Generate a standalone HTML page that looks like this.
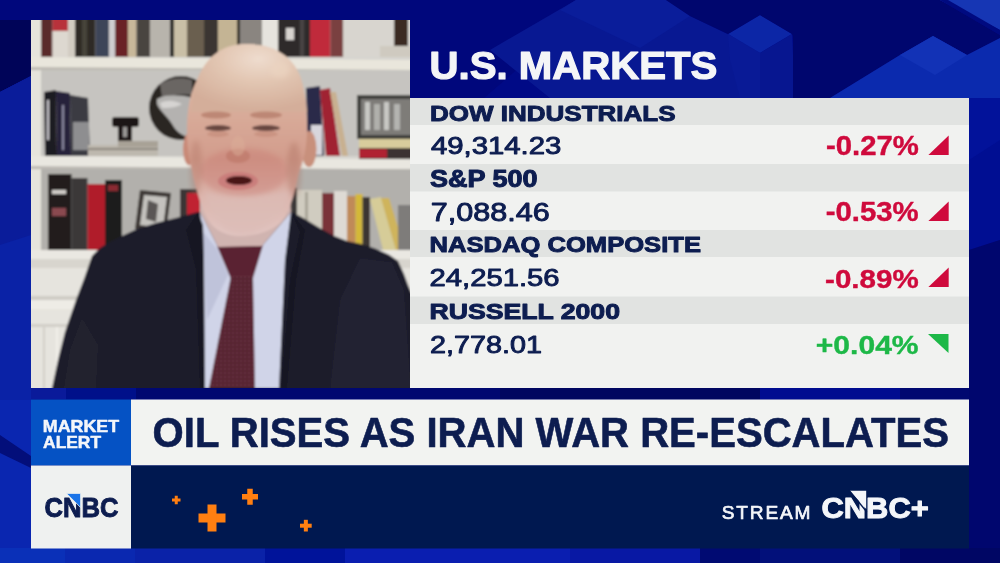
<!DOCTYPE html>
<html><head><meta charset="utf-8"><title>CNBC</title>
<style>
html,body{margin:0;padding:0;}
body{width:1000px;height:563px;overflow:hidden;position:relative;background:#000a8c;font-family:"Liberation Sans",Arial,sans-serif;}
svg{position:absolute;left:0;top:0;display:block;}
.b{font-weight:bold;}
</style></head>
<body>
<svg width="1000" height="563" viewBox="0 0 1000 563">
<defs>
  <linearGradient id="bgL" x1="0" y1="0" x2="1" y2="0">
    <stop offset="0" stop-color="#0a2aa8"/>
    <stop offset="1" stop-color="#000a8c"/>
  </linearGradient>
</defs>
<!-- background -->
<rect x="0" y="0" width="1000" height="563" fill="#000a86"/>
<g id="bgshapes">
  <!-- top-left dark -->
  <polygon points="0,0 598,0 484,98 410,98 410,20 31,20 31,76 0,92" fill="#00077c"/>
  <polygon points="0,20 31,20 31,76 0,92" fill="#000458"/>
  <!-- left strip -->
  <polygon points="0,92 31,76 31,400 0,400" fill="#0a22a6"/>
  <polygon points="0,92 31,76 31,235 0,245" fill="#0a1c9a"/>
  <polygon points="0,400 31,400 31,563 0,563" fill="#0a26b0"/>
  <polygon points="0,435 31,456 31,468 0,453" fill="#030e7a"/>
  <!-- top cubes -->
  <polygon points="490,50 576,0 666,0 690,16 740,40 760,53 760,98 550,98" fill="#081892"/>
  <polygon points="560,10 576,0 666,0 690,16 640,48" fill="#0a1d9a"/>
  <polygon points="728,34 760,15 792,34 760,53" fill="#0c26a6"/>
  <polygon points="760,53 792,34 795,98 760,98" fill="#071690"/>
  <polygon points="728,34 760,53 760,98 740,98 730,60" fill="#091a96"/>
  <polygon points="666,0 795,0 795,40 792,34 760,15 728,34 690,16" fill="#00066e"/>
  <polygon points="793,0 940,0 1000,35 1000,38 967,55 933,36 900,55 830,98 793,98" fill="#00066e"/>
  <polygon points="830,98 900,55 933,36 967,55 1000,38 1000,98" fill="#0b2aae"/>
  <polygon points="900,55 933,36 967,55 935,75" fill="#1232b6"/>
  <polygon points="940,0 1000,0 1000,30" fill="#1636b4"/>
  <polygon points="940,0 1000,35 1000,30 948,0" fill="#000a80"/>
  <!-- right strip -->
  <polygon points="969,98 1000,98 1000,240 969,250" fill="#000e92"/>
  <polygon points="969,98 1000,98 1000,140 969,160" fill="#02129a"/>
  <polygon points="969,250 1000,240 1000,563 969,563" fill="#00066e"/>
  <!-- gap row -->
  <rect x="31" y="388" width="938" height="11.5" fill="#000870"/>
  <rect x="31" y="388" width="35" height="11.5" fill="#0a1a9a"/>
  <rect x="66" y="388" width="70" height="11.5" fill="#00108a"/>
  <rect x="500" y="388" width="260" height="11.5" fill="#000660"/>
  <rect x="760" y="388" width="140" height="11.5" fill="#000c90"/>
  <!-- bottom strip -->
  <rect x="0" y="548" width="65" height="15" fill="#0a30b8"/>
  <rect x="65" y="548" width="70" height="15" fill="#0a28b0"/>
  <rect x="135" y="548" width="130" height="15" fill="#0a22a8"/>
  <rect x="265" y="548" width="80" height="15" fill="#00139a"/>
  <rect x="345" y="548" width="225" height="15" fill="#0a1eb0"/>
  <rect x="570" y="548" width="130" height="15" fill="#0818a4"/>
  <rect x="700" y="548" width="60" height="15" fill="#000a72"/>
  <rect x="760" y="548" width="140" height="15" fill="#02107a"/>
  <rect x="900" y="548" width="100" height="15" fill="#000664"/>
</g>

<!-- panel -->
<g id="panel">
  <rect x="410" y="98" width="559" height="290" fill="#f1f2f0"/>
  <rect x="410" y="98" width="559" height="27" fill="#e1e3e1"/>
  <rect x="410" y="164" width="559" height="27.5" fill="#e1e3e1"/>
  <rect x="410" y="230" width="559" height="27" fill="#e1e3e1"/>
  <rect x="410" y="296.5" width="559" height="27.5" fill="#e1e3e1"/>
</g>

<!-- lower third -->
<g id="lower">
  <rect x="31" y="399.5" width="100" height="66" fill="#0552c4"/>
  <rect x="131" y="399.5" width="838" height="66" fill="#f2f3f1"/>
  <rect x="31" y="465.5" width="100" height="83" fill="#eff1f0"/>
  <rect x="131" y="465.5" width="838" height="83" fill="#001850"/>
  <!-- plus signs -->
  <g fill="#ff7f11">
    <rect x="172" y="498.5" width="8.5" height="3"/><rect x="174.75" y="495.75" width="3" height="8.5"/>
    <rect x="198.5" y="513.5" width="27" height="9"/><rect x="207.5" y="504.5" width="9" height="27"/>
    <rect x="242" y="494" width="16" height="5.5"/><rect x="247.25" y="488.75" width="5.5" height="16"/>
    <rect x="300" y="523.7" width="11.7" height="4"/><rect x="303.85" y="519.8" width="4" height="11.7"/>
  </g>
</g>

<g id="tris">
  <polygon points="948.7,135.5 948.7,155 928.4,155" fill="#cf0a3c"/>
  <polygon points="948.7,201.5 948.7,221 928.4,221" fill="#cf0a3c"/>
  <polygon points="948.7,267.5 948.7,287 928.4,287" fill="#cf0a3c"/>
  <polygon points="928,334 948.5,334 948.5,353" fill="#1db847"/>
</g>
<!--TEXTS-->
<g font-family="Liberation Sans, Arial, sans-serif" stroke-linejoin="round">
<text x="429.5" y="78.9" font-size="38.3" font-weight="bold" textLength="287.8" lengthAdjust="spacingAndGlyphs" fill="#f4f5f7" stroke="#f4f5f7" stroke-width="1.2">U.S. MARKETS</text>
<text x="430.0" y="120.8" font-size="22.9" font-weight="bold" textLength="245.5" lengthAdjust="spacingAndGlyphs" fill="#0d1d50" stroke="#0d1d50" stroke-width="1.0">DOW INDUSTRIALS</text>
<text x="429.9" y="187.3" font-size="23.1" font-weight="bold" textLength="107.6" lengthAdjust="spacingAndGlyphs" fill="#0d1d50" stroke="#0d1d50" stroke-width="1.0">S&amp;P 500</text>
<text x="429.5" y="252.0" font-size="22.9" font-weight="bold" textLength="271.5" lengthAdjust="spacingAndGlyphs" fill="#0d1d50" stroke="#0d1d50" stroke-width="1.0">NASDAQ COMPOSITE</text>
<text x="429.4" y="318.9" font-size="22.7" font-weight="bold" textLength="190.6" lengthAdjust="spacingAndGlyphs" fill="#0d1d50" stroke="#0d1d50" stroke-width="1.0">RUSSELL 2000</text>
<text x="430.9" y="154.0" font-size="24.8" font-weight="normal" textLength="130.5" lengthAdjust="spacingAndGlyphs" fill="#0d1d50" stroke="#0d1d50" stroke-width="0.95">49,314.23</text>
<text x="430.7" y="221.2" font-size="26.4" font-weight="normal" textLength="119.0" lengthAdjust="spacingAndGlyphs" fill="#0d1d50" stroke="#0d1d50" stroke-width="0.95">7,088.46</text>
<text x="429.6" y="286.4" font-size="24.8" font-weight="normal" textLength="129.9" lengthAdjust="spacingAndGlyphs" fill="#0d1d50" stroke="#0d1d50" stroke-width="0.95">24,251.56</text>
<text x="429.9" y="353.0" font-size="24.8" font-weight="normal" textLength="112.0" lengthAdjust="spacingAndGlyphs" fill="#0d1d50" stroke="#0d1d50" stroke-width="0.95">2,778.01</text>
<text x="826.0" y="155.1" font-size="27.1" font-weight="bold" textLength="92.9" lengthAdjust="spacingAndGlyphs" fill="#cf0a3c" stroke="#cf0a3c" stroke-width="0.4">-0.27%</text>
<text x="825.7" y="221.2" font-size="27.0" font-weight="bold" textLength="92.9" lengthAdjust="spacingAndGlyphs" fill="#cf0a3c" stroke="#cf0a3c" stroke-width="0.4">-0.53%</text>
<text x="825.1" y="287.9" font-size="26.6" font-weight="bold" textLength="93.6" lengthAdjust="spacingAndGlyphs" fill="#cf0a3c" stroke="#cf0a3c" stroke-width="0.4">-0.89%</text>
<text x="815.8" y="353.7" font-size="26.7" font-weight="bold" textLength="102.8" lengthAdjust="spacingAndGlyphs" fill="#1db847" stroke="#1db847" stroke-width="0.4">+0.04%</text>
<text x="152.6" y="447.0" font-size="41.6" font-weight="bold" textLength="796.3" lengthAdjust="spacingAndGlyphs" fill="#0d1d50" stroke="#0d1d50" stroke-width="0.6">OIL RISES AS IRAN WAR RE-ESCALATES</text>
<text x="42.8" y="431.5" font-size="16.9" font-weight="bold" textLength="76.3" lengthAdjust="spacingAndGlyphs" fill="#f4f6fa" stroke="#f4f6fa" stroke-width="0.5">MARKET</text>
<text x="43.1" y="447.5" font-size="16.9" font-weight="bold" textLength="57.9" lengthAdjust="spacingAndGlyphs" fill="#f4f6fa" stroke="#f4f6fa" stroke-width="0.5">ALERT</text>
<text x="44.5" y="516.5" font-size="28.0" font-weight="bold" textLength="73.9" lengthAdjust="spacingAndGlyphs" fill="#0d1d50" stroke="#0d1d50" stroke-width="1.0">CNBC</text>
<text x="721.7" y="518.6" font-size="19.1" font-weight="normal" textLength="88.8" lengthAdjust="spacing" fill="#f4f6fa" stroke="#f4f6fa" stroke-width="0.7">STREAM</text>
<text x="821.5" y="517.6" font-size="30.3" font-weight="bold" textLength="107.3" lengthAdjust="spacingAndGlyphs" fill="#f4f6fa" stroke="#f4f6fa" stroke-width="1.0">CNBC+</text>
</g>
<!--/TEXTS-->
<g id="logos">
  <polygon points="66.5,493.4 80.6,493.4 80.6,507.5" fill="#1a74e8" stroke="#eff1f0" stroke-width="0.8"/>
  <polygon points="849.6,490.8 866.2,490.8 866.2,509" fill="#f4f6fa"/>
  <line x1="848.6" y1="489.6" x2="866.8" y2="512" stroke="#001850" stroke-width="1.4"/>
</g>


<!-- video -->
<!--VIDEO-->
<g id="video">
<defs>
  <clipPath id="vclip"><rect x="31" y="20" width="379" height="368"/></clipPath>
  <filter id="soft" x="-5%" y="-5%" width="110%" height="110%"><feGaussianBlur stdDeviation="0.9"/></filter>
  <filter id="soft2" x="-20%" y="-20%" width="140%" height="140%"><feGaussianBlur stdDeviation="2.5"/></filter>
  <radialGradient id="skull" cx="0.58" cy="0.22" r="0.75">
    <stop offset="0" stop-color="#eedcce"/>
    <stop offset="0.45" stop-color="#e2c6b2"/>
    <stop offset="1" stop-color="#d4ae9a"/>
  </radialGradient>
  <linearGradient id="faceG" x1="0" y1="0" x2="0" y2="1">
    <stop offset="0" stop-color="#e0c2ae"/>
    <stop offset="0.35" stop-color="#d9ac9a"/>
    <stop offset="0.6" stop-color="#d29c8c"/>
    <stop offset="0.8" stop-color="#dcb6ae"/>
    <stop offset="1" stop-color="#e2c6c2"/>
  </linearGradient>
  <radialGradient id="globeG" cx="0.6" cy="0.45" r="0.6">
    <stop offset="0" stop-color="#b8b8b8"/>
    <stop offset="0.6" stop-color="#8a8a8a"/>
    <stop offset="1" stop-color="#2a2a2a"/>
  </radialGradient>
  <pattern id="tieP" width="4" height="4" patternUnits="userSpaceOnUse">
    <rect width="4" height="4" fill="#52202e"/>
    <rect width="2" height="2" fill="#6e3444"/>
  </pattern>
</defs>
<g clip-path="url(#vclip)">
<g filter="url(#soft)">
  <!-- base wall -->
  <rect x="24" y="13" width="394" height="382" fill="#d6d4cf"/>
  <!-- top compartment back -->
  <rect x="24" y="13" width="394" height="44" fill="#d0cdc6"/>
  <!-- top row items -->
  <rect x="41" y="13" width="11.5" height="44" fill="#5a2a2a"/>
  <rect x="52.5" y="13" width="15.5" height="18" fill="#b8303a"/>
  <rect x="52.5" y="31" width="15.5" height="26" fill="#ddd8d0"/>
  <rect x="68" y="13" width="7" height="44" fill="#d2ccc2"/>
  <rect x="75" y="13" width="20.5" height="44" fill="#2e2c28"/>
  <rect x="82" y="13" width="5" height="44" fill="#46443a"/>
  <rect x="95.5" y="13" width="13.5" height="44" fill="#3c4458"/>
  <rect x="109" y="13" width="6" height="44" fill="#cfcdcf"/>
  <rect x="115" y="13" width="13" height="44" fill="#6a2226"/>
  <rect x="128" y="13" width="8.5" height="44" fill="#c8b89a"/>
  <rect x="136.5" y="13" width="13.5" height="44" fill="#4a4540"/>
  <rect x="150" y="13" width="20" height="44" fill="#b8b4ac"/>
  <rect x="170" y="13" width="4" height="44" fill="#222"/>
  <rect x="174" y="13" width="13" height="44" fill="#c9bfa6"/>
  <rect x="187" y="13" width="50" height="44" fill="#6a5e50"/>
  <rect x="204" y="13" width="14" height="44" fill="#3a3430"/>
  <rect x="218" y="13" width="19" height="44" fill="#c4b494"/>
  <rect x="237" y="13" width="3" height="44" fill="#2a2624"/>
  <rect x="240" y="13" width="22" height="44" fill="#8a8580"/>
  <rect x="262" y="13" width="16" height="44" fill="#e6e4de"/>
  <rect x="278" y="13" width="35" height="44" fill="#2e2a2a"/>
  <rect x="286" y="28" width="8" height="12" fill="#d8d4d0"/>
  <rect x="300" y="13" width="4" height="44" fill="#4a4444"/>
  <rect x="310" y="13" width="20.5" height="44" fill="#c02a3a"/>
  <rect x="330.5" y="13" width="12.5" height="44" fill="#7a4040"/>
  <rect x="344" y="13" width="74" height="44" fill="#d8d5cf"/>
  <rect x="394" y="13" width="14" height="35" fill="#3a2a22"/>
  <rect x="380" y="46" width="38" height="11" fill="#cfcac0"/>
  <!-- side panel -->
  <rect x="24" y="13" width="17" height="382" fill="#e6e4dc"/>
  <!-- shelf 1 -->
  <polygon points="24,57 418,60 418,70.5 24,67.5" fill="#e9e6dc"/>
  <polygon points="24,67 418,70 418,73 24,70" fill="#bdbab2"/>
  <!-- middle compartment back -->
  <rect x="41" y="70" width="377" height="86" fill="#c6c4c0"/>
  <!-- left tilted books -->
  <polygon points="44,92 56,90 57,156 45,156" fill="#1e1a22"/>
  <rect x="47" y="100" width="2" height="40" fill="#c8c6cc"/>
  <polygon points="56,91 70,93 71,156 57,156" fill="#28243a"/>
  <rect x="62" y="105" width="2" height="45" fill="#8a88a0"/>
  <polygon points="70,95 88,98 90,156 71,156" fill="#3a3a42"/>
  <rect x="73" y="122" width="16" height="28" fill="#8e8e90"/>
  <!-- camera -->
  <rect x="112" y="117" width="27" height="10" rx="3" fill="#1a1616"/>
  <rect x="118" y="125" width="14" height="20" fill="#1a1616"/>
  <rect x="123" y="127" width="4" height="10" fill="#9a9694"/>
  <!-- book stack -->
  <rect x="88" y="145" width="70" height="11" fill="#bdb8ae"/>
  <rect x="88" y="148" width="70" height="2" fill="#8a847a"/>
  <rect x="118" y="141" width="40" height="6" fill="#a8a296"/>
  <!-- globe -->
  <circle cx="181" cy="108" r="32" fill="#2a2624"/>
  <path d="M 160,84 C 170,78 182,77 192,80 L 192,95 C 182,94 170,95 162,97 Z" fill="#6a6664"/>
  <path d="M 157,99 C 166,94 178,95 190,97 L 192,100 192,138 C 184,137 176,132 172,124 C 167,116 159,110 157,104 Z" fill="#b4b2b0"/>
  <path d="M 160,103 C 168,99 176,101 182,104 C 176,108 168,108 162,108 Z" fill="#d6d4d2"/>
  <!-- right middle books -->
  <polygon points="306,88 320,86 324,156 308,156" fill="#2a2a4a"/>
  <rect x="311" y="125" width="11" height="30" fill="#d8d6dc"/>
  <polygon points="320,90 330,88 340,156 326,156" fill="#a02030"/>
  <polygon points="330,92 336,92 348,156 342,156" fill="#c8b090"/>
  <!-- photo frame -->
  <rect x="357" y="95" width="61" height="44" fill="#3e3c3a"/>
  <rect x="361" y="99" width="57" height="36" fill="#7e7c78"/>
  <rect x="365" y="102" width="5" height="28" fill="#c8c8c4"/>
  <rect x="374" y="104" width="6" height="26" fill="#b0b0ac"/>
  <rect x="384" y="102" width="5" height="28" fill="#c8c8c4"/>
  <rect x="394" y="104" width="6" height="26" fill="#b4b4b0"/>
  <!-- right stack -->
  <rect x="359" y="139" width="59" height="9" fill="#d8cc9c"/>
  <rect x="359" y="148" width="59" height="11" fill="#3a3230"/>
  <rect x="359" y="149" width="28" height="9" fill="#b02030"/>
  <!-- shelf 2 -->
  <polygon points="24,156 418,159.5 418,170 24,167" fill="#e9e7e0"/>
  <polygon points="24,166 418,169.5 418,172 24,169" fill="#bdbab4"/>
  <!-- lower compartment back -->
  <rect x="41" y="169" width="377" height="81" fill="#b2b0ac"/>
  <!-- lower left books -->
  <rect x="48" y="174" width="23.5" height="76" fill="#201c1c"/>
  <rect x="52" y="190" width="14" height="4" fill="#d0ccc8"/>
  <rect x="52" y="208" width="14" height="8" fill="#8a4a50"/>
  <rect x="71.5" y="178" width="16" height="72" fill="#3a3838"/>
  <rect x="87.5" y="184" width="17.5" height="66" fill="#b01c2c"/>
  <rect x="105" y="180" width="17" height="70" fill="#1c1a1a"/>
  <rect x="108" y="185" width="10" height="6" fill="#8a2a30"/>
  <!-- frame -->
  <polygon points="140,190 171,193 166,232 135,229" fill="#3c3836"/>
  <polygon points="144,195 167,197 163,228 140,225" fill="#c4c2be"/>
  <polygon points="148,200 158,204 156,222 146,219" fill="#5a5654"/>
  <rect x="180" y="189" width="20" height="30" fill="#3a3434"/>
  <rect x="187" y="193" width="13" height="22" fill="#c02030"/>
  <!-- lower right books -->
  <rect x="290" y="188" width="7" height="62" fill="#3a3838"/>
  <rect x="297" y="190" width="25" height="60" fill="#d0ccc0"/>
  <rect x="305" y="192" width="3" height="58" fill="#a8a498"/>
  <rect x="322" y="193" width="12" height="57" fill="#7a3038"/>
  <rect x="334" y="191" width="13" height="59" fill="#dedad4"/>
  <rect x="347" y="196" width="8.5" height="54" fill="#c08a58"/>
  <rect x="355.5" y="194" width="7" height="56" fill="#d4b838"/>
  <rect x="362.5" y="197" width="7.5" height="53" fill="#3a3530"/>
  <polygon points="370,199 381,197 396,250 383,250" fill="#d6cc98"/>
  <polygon points="381,198 389,198 405,250 396,250" fill="#cfb45c"/>
  <rect x="398" y="205" width="20" height="45" fill="#7e7c7a"/>
  <!-- shelf 3 + cabinet -->
  <rect x="24" y="250" width="394" height="9" fill="#eae8e2"/>
  <rect x="24" y="259" width="394" height="9" fill="#d8d5ce"/>
  <rect x="24" y="268" width="394" height="120" fill="#e6e4de"/>
  <rect x="24" y="296" width="394" height="4" fill="#cfccc5"/>
  <rect x="24" y="300" width="394" height="9" fill="#eeece6"/>
  <rect x="24" y="324" width="394" height="3" fill="#d2cfc8"/>
  <rect x="43" y="327" width="2" height="61" fill="#d2cfc8"/>
  <rect x="56" y="327" width="2" height="61" fill="#f2f0ea"/>

  <!-- suit -->
  <path d="M 50,395 L 52,388 L 58,360 65,332 76,300 84,279 92,256 100,248 108,243 122,236 137,229 156,223 176,218 198,212 290,211 304,218.5 318,227 333,235.5 347,241 361,244 375,248.5 389,254.7 398,261 404,274 408,285 411,292 418,300 418,395 50,395 Z" fill="#1d1d2b"/>
  <!-- suit shading -->
  <path d="M 64,388 L 70,350 82,318 98,345 96,388 Z" fill="#23232f"/>
  <path d="M 330,388 L 340,300 360,258 392,262 404,290 411,388 Z" fill="#212131"/>
  <!-- shirt -->
  <polygon points="200,212 218,247 262,246 291,212 285,260 279,388 204,388 203,250" fill="#d0d4e8"/>
  <polygon points="203,232 217,249 228,275 207,320" fill="#bfc3da"/>
  <!-- tie -->
  <polygon points="217,246 263,245 253,278 231,279" fill="#5a2233"/>
  <polygon points="231,276 253,276 255,388 209,388" fill="url(#tieP)"/>
  <!-- lapels -->
  <path d="M 198,212 L 186,230 196,270 200,388 205,388 204,260 203,225 Z" fill="#161622"/>
  <path d="M 291,212 L 300,232 290,280 281,388 287,388 296,280 305,230 Z" fill="#161622"/>
  <!-- neck -->
  <path d="M 203,195 L 290,195 291,212 262,246 218,247 200,212 Z" fill="#d0b4b0"/>
  <!-- ears -->
  <ellipse cx="189" cy="149" rx="6" ry="16" fill="#c98a78"/>
  <ellipse cx="309" cy="149" rx="7.5" ry="18" fill="#c8907c"/>
  <!-- head -->
  <path d="M 246,44 C 274,44 292,56 300,76 C 305,90 307,110 307,130 C 307,150 302,165 299,172 C 296,185 294,195 291,203 C 288,212 283,222 276,226 C 266,233 252,236 240,236 C 226,236 216,230 211,224 C 205,216 201,206 199,198 C 196,188 193,178 192,170 C 189,160 187,145 187,130 C 187,110 190,92 198,78 C 206,58 222,44 246,44 Z" fill="url(#faceG)"/>
  <path d="M 246,44 C 274,44 292,56 300,76 C 304,88 306,100 307,112 L 191,112 C 192,98 194,88 198,78 C 206,58 222,44 246,44 Z" fill="url(#skull)"/>
  <ellipse cx="280" cy="70" rx="10" ry="8" fill="#ecd6c2" opacity="0.6" filter="url(#soft2)"/>
  <!-- cheeks redness -->
  <ellipse cx="244" cy="172" rx="44" ry="24" fill="#c87a72" opacity="0.4" filter="url(#soft2)"/>
  <!-- brows / eyes -->
  <ellipse cx="216" cy="115" rx="15" ry="3.5" fill="#a86a58" opacity="0.55"/>
  <ellipse cx="266" cy="115" rx="16" ry="3.5" fill="#a86a58" opacity="0.55"/>
  <ellipse cx="218" cy="128" rx="13" ry="3" fill="#553532" opacity="0.85"/>
  <ellipse cx="266" cy="128" rx="14" ry="3" fill="#553532" opacity="0.85"/>
  <ellipse cx="218" cy="134" rx="11" ry="3" fill="#b87a6a" opacity="0.4"/>
  <ellipse cx="266" cy="134" rx="12" ry="3" fill="#b87a6a" opacity="0.4"/>
  <ellipse cx="294" cy="170" rx="7" ry="28" fill="#a86a5a" opacity="0.35" filter="url(#soft2)"/>
  <ellipse cx="196" cy="168" rx="6" ry="28" fill="#a86a5a" opacity="0.3" filter="url(#soft2)"/>
  <!-- nose -->
  <ellipse cx="238" cy="156" rx="12" ry="7" fill="#b87060" opacity="0.5"/>
  <ellipse cx="238" cy="146" rx="7" ry="10" fill="#dcae98" opacity="0.5"/>
  <!-- lips + mouth -->
  <ellipse cx="238" cy="181" rx="20" ry="9" fill="#c87474" opacity="0.7"/>
  <ellipse cx="239" cy="180.5" rx="13" ry="4.5" fill="#4a1218"/>
  <!-- beard -->
  <path d="M 206,192 C 220,200 258,200 290,190 C 286,214 266,234 242,235 C 222,235 208,214 206,192 Z" fill="#dcbcb6" opacity="0.7" filter="url(#soft2)"/>
</g>
</g>
</g>
<!--/VIDEO-->
</svg>
</body></html>
